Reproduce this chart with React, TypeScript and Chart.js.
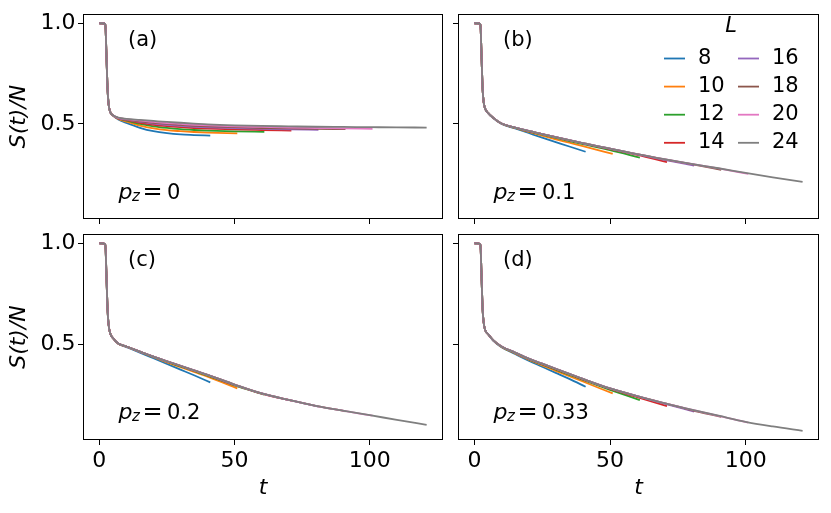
import { useEffect, useRef } from "react";
import { Chart, registerables } from "chart.js";

Chart.register(...registerables);

// system sizes and the last time step of each run
const L_SIZES = [8, 10, 12, 14, 16, 18, 20, 24];
const END_T = [41, 51, 61, 71, 81, 91, 101, 121];
const COLORS = ["#1f77b4", "#ff7f0e", "#2ca02c", "#d62728", "#9467bd", "#8c564b", "#e377c2", "#7f7f7f"];

// early times (all L coincide) and later times (each row ends at END_T)
const EARLY_T = [0, 1, 2.2, 2.6, 3, 3.4, 4, 5];
const TAIL_T = [7, 10, 15, 20, 25, 30, 35, 40, 50, 60, 70, 80, 90, 100, 110];

const X_TICKS = [0, 50, 100];
const Y_TICKS = [0.5, 1.0];

// (a) p_z = 0
const EARLY_A = [1, 1, 0.995, 0.85, 0.68, 0.6, 0.56, 0.543];
const TAIL_A = [
  [0.522, 0.505, 0.481, 0.464, 0.454, 0.448, 0.445, 0.442],
  [0.525, 0.512, 0.492, 0.478, 0.469, 0.464, 0.46, 0.457, 0.453],
  [0.527, 0.516, 0.5, 0.488, 0.48, 0.474, 0.47, 0.467, 0.463, 0.461],
  [0.528, 0.519, 0.506, 0.496, 0.489, 0.484, 0.48, 0.477, 0.473, 0.47, 0.467],
  [0.529, 0.521, 0.51, 0.502, 0.495, 0.49, 0.486, 0.483, 0.479, 0.476, 0.473, 0.471],
  [0.53, 0.523, 0.513, 0.506, 0.5, 0.495, 0.491, 0.488, 0.484, 0.48, 0.478, 0.476, 0.474],
  [0.53, 0.524, 0.516, 0.51, 0.504, 0.5, 0.496, 0.493, 0.488, 0.485, 0.482, 0.48, 0.478, 0.476],
  [0.531, 0.525, 0.52, 0.515, 0.51, 0.506, 0.502, 0.498, 0.493, 0.49, 0.488, 0.486, 0.485, 0.484, 0.483, 0.482],
];

// (b) p_z = 0.1
const EARLY_B = [1, 1, 0.995, 0.85, 0.68, 0.61, 0.575, 0.555];
const TAIL_B = [
  [0.528, 0.5, 0.478, 0.455, 0.432, 0.41, 0.388, 0.362],
  [0.529, 0.501, 0.48, 0.46, 0.442, 0.424, 0.407, 0.39, 0.351],
  [0.53, 0.502, 0.481, 0.463, 0.447, 0.431, 0.415, 0.4, 0.37, 0.333],
  [0.53, 0.502, 0.482, 0.464, 0.449, 0.434, 0.418, 0.403, 0.375, 0.346, 0.311],
  [0.53, 0.502, 0.482, 0.465, 0.45, 0.435, 0.42, 0.404, 0.377, 0.349, 0.322, 0.293],
  [0.53, 0.502, 0.482, 0.465, 0.45, 0.435, 0.42, 0.405, 0.378, 0.35, 0.324, 0.3, 0.272],
  [0.53, 0.502, 0.482, 0.465, 0.45, 0.435, 0.42, 0.405, 0.378, 0.35, 0.325, 0.302, 0.279, 0.252],
  [0.53, 0.502, 0.482, 0.465, 0.45, 0.435, 0.42, 0.405, 0.378, 0.35, 0.325, 0.302, 0.28, 0.257, 0.235, 0.212],
];

// (c) p_z = 0.2
const EARLY_C = [1, 1, 0.995, 0.85, 0.68, 0.6, 0.555, 0.532];
const TAIL_C = [
  [0.503, 0.487, 0.46, 0.432, 0.404, 0.376, 0.348, 0.313],
  [0.504, 0.489, 0.463, 0.437, 0.412, 0.388, 0.364, 0.341, 0.283],
  [0.505, 0.49, 0.464, 0.439, 0.415, 0.392, 0.369, 0.346, 0.298, 0.252],
  [0.505, 0.49, 0.465, 0.44, 0.417, 0.394, 0.371, 0.349, 0.3, 0.257, 0.222],
  [0.505, 0.49, 0.465, 0.44, 0.417, 0.395, 0.372, 0.35, 0.301, 0.258, 0.226, 0.193],
  [0.505, 0.49, 0.465, 0.44, 0.417, 0.395, 0.372, 0.35, 0.302, 0.258, 0.226, 0.197, 0.17],
  [0.505, 0.49, 0.465, 0.44, 0.417, 0.395, 0.372, 0.35, 0.302, 0.258, 0.226, 0.197, 0.173, 0.148],
  [0.505, 0.49, 0.465, 0.44, 0.417, 0.395, 0.372, 0.35, 0.302, 0.258, 0.226, 0.197, 0.173, 0.151, 0.127, 0.103],
];

// (d) p_z = 0.33
const EARLY_D = [1, 1, 0.995, 0.85, 0.68, 0.61, 0.57, 0.552];
const TAIL_D = [
  [0.518, 0.487, 0.453, 0.42, 0.39, 0.36, 0.33, 0.291],
  [0.519, 0.488, 0.456, 0.425, 0.397, 0.37, 0.343, 0.317, 0.258],
  [0.52, 0.489, 0.458, 0.428, 0.401, 0.375, 0.35, 0.325, 0.276, 0.225],
  [0.52, 0.49, 0.459, 0.429, 0.403, 0.378, 0.353, 0.328, 0.28, 0.24, 0.195],
  [0.52, 0.49, 0.46, 0.43, 0.405, 0.38, 0.355, 0.33, 0.283, 0.245, 0.208, 0.168],
  [0.52, 0.49, 0.46, 0.43, 0.405, 0.38, 0.355, 0.33, 0.283, 0.245, 0.21, 0.176, 0.142],
  [0.52, 0.49, 0.46, 0.43, 0.405, 0.38, 0.355, 0.33, 0.283, 0.245, 0.21, 0.178, 0.147, 0.114],
  [0.52, 0.49, 0.46, 0.43, 0.405, 0.38, 0.355, 0.33, 0.283, 0.245, 0.21, 0.178, 0.148, 0.118, 0.095, 0.073],
];

const FONT = '"DejaVu Sans", sans-serif';

interface PanelSpec {
  tag: string;
  pz: string;
  early: number[];
  tail: number[][];
  left: number;
  top: number;
  width: number;
  height: number;
  yW: number;
  xH: number;
  padTop: number;
  padRight: number;
  showX: boolean;
  showY: boolean;
  legend: boolean;
}

const PANELS: PanelSpec[] = [
  { tag: "(a)", pz: "0", early: EARLY_A, tail: TAIL_A, left: 0, top: 0, width: 450, height: 226, yW: 83, xH: 7, padTop: 14, padRight: 7, showX: false, showY: true, legend: false },
  { tag: "(b)", pz: "0.1", early: EARLY_B, tail: TAIL_B, left: 450, top: 0, width: 381, height: 226, yW: 8, xH: 7, padTop: 14, padRight: 12, showX: false, showY: false, legend: true },
  { tag: "(c)", pz: "0.2", early: EARLY_C, tail: TAIL_C, left: 0, top: 226, width: 450, height: 287, yW: 83, xH: 73, padTop: 8, padRight: 7, showX: true, showY: true, legend: false },
  { tag: "(d)", pz: "0.33", early: EARLY_D, tail: TAIL_D, left: 450, top: 226, width: 381, height: 287, yW: 8, xH: 73, padTop: 8, padRight: 12, showX: true, showY: false, legend: false },
];

function buildDatasets(early: number[], tail: number[][]) {
  const sets = L_SIZES.map((L, i) => {
    const row = tail[i];
    const times = TAIL_T.slice(0, row.length - 1).concat(END_T[i]);
    const pts = EARLY_T.map((t, k) => ({ x: t, y: early[k] })).concat(
      times.map((t, k) => ({ x: t, y: row[k] }))
    );
    return {
      label: String(L),
      data: pts,
      borderColor: COLORS[i],
      backgroundColor: COLORS[i],
      borderWidth: 1.8,
      pointRadius: 0,
      cubicInterpolationMode: "monotone" as const,
      fill: false,
    };
  });
  // first dataset is drawn on top in Chart.js, matplotlib draws the last one on top
  return sets.reverse();
}

// p_z = value, glyphs placed like the mathtext in the figure
function drawPz(ctx: CanvasRenderingContext2D, x: number, y: number, value: string) {
  ctx.textAlign = "left";
  ctx.textBaseline = "alphabetic";
  ctx.font = `italic 22px ${FONT}`;
  ctx.fillText("p", x, y);
  ctx.font = `italic 15px ${FONT}`;
  ctx.fillText("z", x + 13.5, y + 2);
  ctx.font = `24px ${FONT}`;
  ctx.fillText("=", x + 24, y);
  ctx.font = `21px ${FONT}`;
  ctx.fillText(value, x + 48.5, y);
}

const makeDecor = (p: PanelSpec) => ({
  id: "decor",
  afterDraw(chart: Chart) {
    const { ctx, chartArea: a } = chart;
    ctx.save();
    ctx.strokeStyle = "#000";
    ctx.lineWidth = 1;
    ctx.strokeRect(a.left + 0.5, a.top + 0.5, a.right - a.left - 1, a.bottom - a.top - 1);

    ctx.fillStyle = "#000";
    ctx.font = `21px ${FONT}`;
    ctx.textAlign = "left";
    ctx.textBaseline = "middle";
    ctx.fillText(p.tag, a.left + 45, a.top + 27);
    drawPz(ctx, a.left + 35.5, a.top + 184.5, p.pz);

    if (p.legend) {
      ctx.font = `italic 21px ${FONT}`;
      ctx.textAlign = "center";
      ctx.textBaseline = "middle";
      ctx.fillText("L", a.left + 273, a.top + 13);
      ctx.font = `21px ${FONT}`;
      ctx.textAlign = "left";
      L_SIZES.forEach((L, i) => {
        const col = i < 4 ? 0 : 1;
        const y = a.top + 44.5 + (i % 4) * 28.1;
        const lx = a.left + (col ? 280 : 206);
        ctx.strokeStyle = COLORS[i];
        ctx.lineWidth = 1.8;
        ctx.beginPath();
        ctx.moveTo(lx, y);
        ctx.lineTo(lx + 21, y);
        ctx.stroke();
        ctx.fillStyle = "#000";
        ctx.fillText(String(L), a.left + (col ? 314 : 240), y);
      });
    }
    ctx.restore();
  },
});

const Panel = ({ spec }: { spec: PanelSpec }) => {
  const chartRef = useRef<HTMLCanvasElement | null>(null);
  const chartInstance = useRef<Chart | null>(null);

  useEffect(() => {
    if (!chartRef.current) return;
    if (chartInstance.current) chartInstance.current.destroy();
    const ctx = chartRef.current.getContext("2d");
    if (!ctx) return;

    chartInstance.current = new Chart(ctx, {
      type: "line",
      data: { datasets: buildDatasets(spec.early, spec.tail) as any },
      plugins: [makeDecor(spec)],
      options: {
        animation: false,
        responsive: true,
        maintainAspectRatio: false,
        layout: { padding: { top: spec.padTop, right: spec.padRight, left: 0, bottom: 0 } },
        plugins: { legend: { display: false }, tooltip: { enabled: false } },
        scales: {
          x: {
            type: "linear",
            min: -6.05,
            max: 127.05,
            afterBuildTicks: (s: any) => {
              s.ticks = X_TICKS.map((v) => ({ value: v }));
            },
            afterFit: (s: any) => {
              s.height = spec.xH;
              s.paddingLeft = 0;
              s.paddingRight = 0;
            },
            ticks: {
              display: spec.showX,
              autoSkip: false,
              maxRotation: 0,
              padding: 3,
              color: "#000",
              font: { family: FONT, size: 22 },
              callback: (v: any) => String(v),
            },
            grid: { drawOnChartArea: false, drawTicks: true, tickLength: 5, color: "#000", lineWidth: 1 },
            border: { display: false },
            title: {
              display: spec.showX,
              text: "t",
              color: "#000",
              font: { family: FONT, size: 22, style: "italic" },
              padding: { top: 0, bottom: 12 },
            },
          },
          y: {
            type: "linear",
            min: 0.028,
            max: 1.046,
            afterBuildTicks: (s: any) => {
              s.ticks = Y_TICKS.map((v) => ({ value: v }));
            },
            afterFit: (s: any) => {
              s.width = spec.yW;
              s.paddingTop = 0;
              s.paddingBottom = 0;
            },
            ticks: {
              display: spec.showY,
              padding: 2.5,
              color: "#000",
              font: { family: FONT, size: 22 },
              callback: (v: any) => Number(v).toFixed(1),
            },
            grid: { drawOnChartArea: false, drawTicks: true, tickLength: 5, color: "#000", lineWidth: 1 },
            border: { display: false },
            title: {
              display: spec.showY,
              text: "S(t)/N",
              color: "#000",
              font: { family: FONT, size: 22, style: "italic" },
              padding: { top: 6.5, bottom: 0 },
            },
          },
        },
      },
    });

    return () => {
      if (chartInstance.current) {
        chartInstance.current.destroy();
        chartInstance.current = null;
      }
    };
  }, [spec]);

  return (
    <div style={{ position: "absolute", left: spec.left, top: spec.top, width: spec.width, height: spec.height }}>
      <canvas ref={chartRef} />
    </div>
  );
};

export default function App() {
  return (
    <div style={{ position: "absolute", left: 0, top: 0, width: 831, height: 513, background: "#fff", overflow: "hidden" }}>
      {PANELS.map((p) => (
        <Panel key={p.tag} spec={p} />
      ))}
    </div>
  );
}
